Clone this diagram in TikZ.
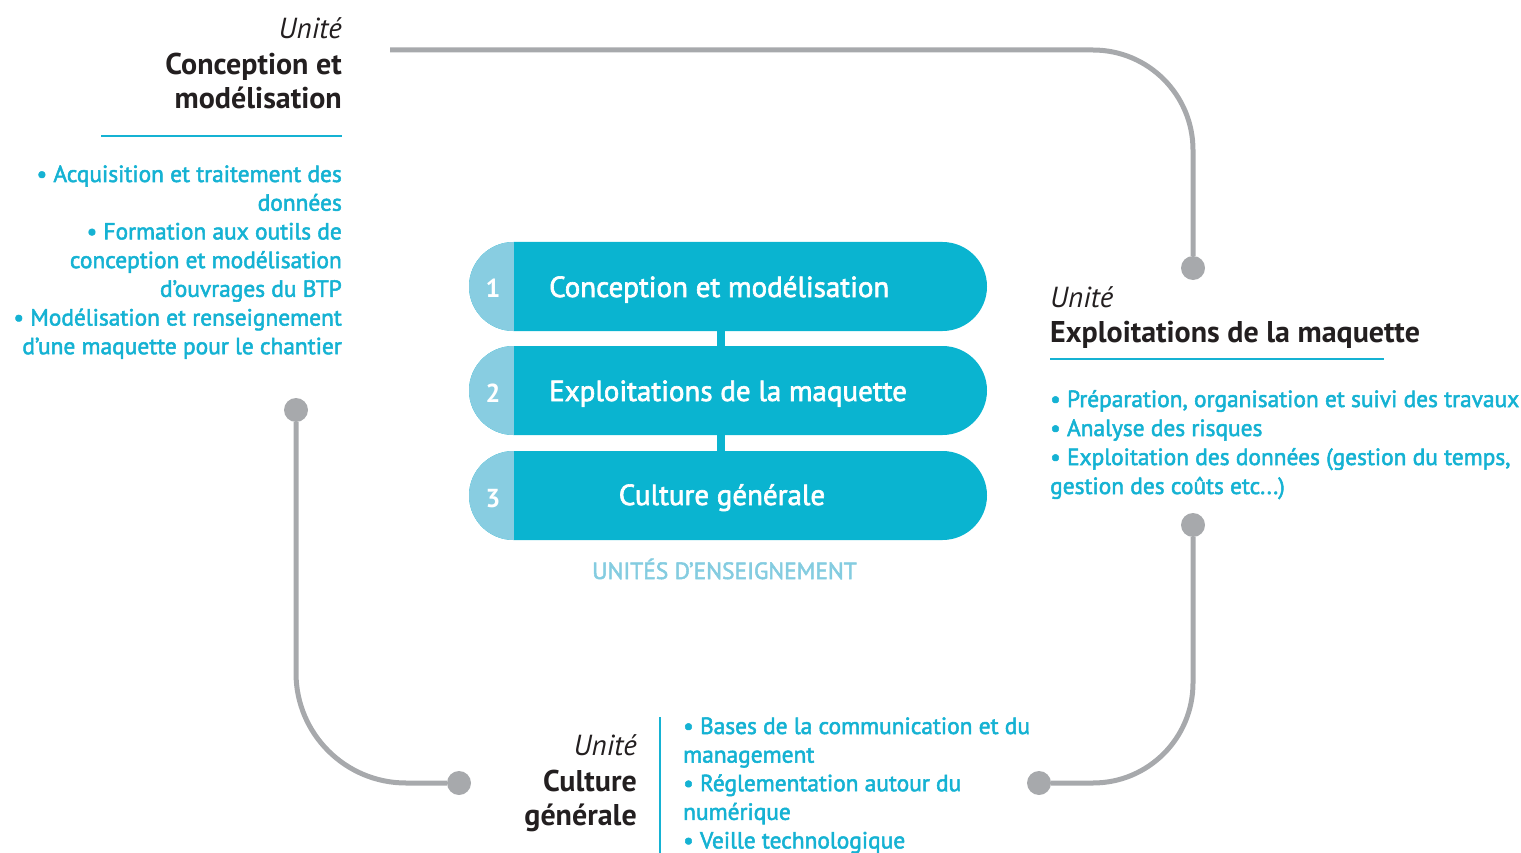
\documentclass[tikz,border=0pt]{standalone}
\usepackage{fontspec}
\setmainfont{PT Sans}
\newfontfamily\medium{PT Sans}[FakeBold=2.2]
\usetikzlibrary{shapes.misc}
\definecolor{cteal}{HTML}{0AB4D0}
\definecolor{clight}{HTML}{88CDE1}
\definecolor{ctext}{HTML}{15B2D3}
\definecolor{cunits}{HTML}{84CCE0}
\definecolor{cgray}{HTML}{A7A9AC}
\definecolor{cdark}{HTML}{231F20}
\newcommand\mydots{...}
\begin{document}
\begin{tikzpicture}[x=1pt,y=-1pt,
  pill/.style={rounded rectangle, minimum width=518pt, minimum height=89pt, inner sep=0pt, fill=cteal,
    path picture={\fill[clight] ([xshift=-2pt]path picture bounding box.north west) rectangle ([xshift=45pt]path picture bounding box.south west);}},
  num/.style={text=white, font=\bfseries\fontsize{26}{30}\selectfont, inner sep=0pt, anchor=base},
  plabel/.style={text=white, font=\medium\fontsize{29}{34}\selectfont, inner sep=0pt, anchor=base west},
  unit/.style={font=\itshape\fontsize{29}{33}\selectfont, text=cdark, inner sep=0pt},
  head/.style={font=\bfseries\fontsize{30}{34}\selectfont, text=cdark, inner sep=0pt},
  item/.style={font=\medium\fontsize{23.4}{28}\selectfont, text=ctext, inner sep=0pt},
  conn/.style={draw=cgray, line width=5pt},
  dot/.style={circle, fill=cgray, minimum size=24pt, inner sep=0pt},
  rule/.style={draw=ctext, line width=2pt},
  bar/.style={draw=cteal, line width=8pt}]
\useasboundingbox (0,0) rectangle (1521,853);

% pills
\node[pill] (p1) at (728,286.5) {};
\node[pill] (p2) at (728,390.5) {};
\node[pill] (p3) at (728,495.5) {};
\draw[bar] ([xshift=-7pt]p1.south) -- ([xshift=-7pt]p2.north);
\draw[bar] ([xshift=-7pt]p2.south) -- ([xshift=-7pt]p3.north);
\node[num] (n1) at (493,298) {1};
\node[num] (n2) at (493,402) {2};
\node[num] (n3) at (493,507) {3};
\node[plabel] (t1) at (549,297) {Conception et modélisation};
\node[plabel] (t2) at (549,401) {Exploitations de la maquette};
\node[plabel, anchor=base] (t3) at (722,505) {Culture générale};
\node[font=\medium\fontsize{23.5}{27}\selectfont, text=cunits, inner sep=0pt, anchor=base] (ue) at (724.5,579) {UNITÉS D’ENSEIGNEMENT};

% left block
\node[unit, anchor=base east] (lu) at (342,39) {Unité};
\node[head, anchor=base east] (lh1) at (342,75) {Conception et};
\node[head, anchor=base east] (lh2) at (342,109) {modélisation};
\coordinate (lr1) at (101,136);
\coordinate (lr2) at (342,136);
\draw[rule] (lr1) -- (lr2);
\foreach [count=\i] \t in {• Acquisition et traitement des, données, • Formation aux outils de, conception et modélisation, d’ouvrages du BTP, • Modélisation et renseignement, d’une maquette pour le chantier}
  \node[item, anchor=base east] (la\i) at (342,{182+28.7*(\i-1)}) {\t};

% right block
\node[unit, anchor=base west] (ru) at (1050,307) {Unité};
\node[head, anchor=base west] (rh) at (1050,342) {Exploitations de la maquette};
\coordinate (rr1) at (1050,359);
\coordinate (rr2) at (1384,359);
\draw[rule] (rr1) -- (rr2);
\foreach [count=\i] \t in {{• Préparation, organisation et suivi des travaux}, • Analyse des risques, {• Exploitation des données (gestion du temps,}, {gestion des coûts etc\mydots)}}
  \node[item, anchor=base west] (ra\i) at (1050,{407+29*(\i-1)}) {\t};

% bottom block
\node[unit, anchor=base east] (bu) at (637,755) {Unité};
\node[head, anchor=base east] (bh1) at (637,791) {Culture};
\node[head, anchor=base east] (bh2) at (637,825) {générale};
\coordinate (bv1) at (660,717);
\coordinate (bv2) at (660,853);
\draw[rule] (bv1) -- (bv2);
\foreach [count=\i] \t in {• Bases de la communication et du, management, • Réglementation autour du, numérique, • Veille technologique}
  \node[item, anchor=base west] (ba\i) at (683,{734+28.6*(\i-1)}) {\t};

% connectors
\node[dot] (d1) at (1193,268) {};
\coordinate (s1) at (390,50);
\draw[conn, rounded corners=100pt] (s1) -- (s1 -| d1) -- (d1);
\node[dot] (d2) at (296,410) {};
\node[dot] (d3) at (459,783) {};
\draw[conn, rounded corners=110pt] (d2) -- (d2 |- d3) -- (d3);
\node[dot] (d4) at (1193,525) {};
\node[dot] (d5) at (1039,783) {};
\draw[conn, rounded corners=100pt] (d4) -- (d4 |- d5) -- (d5);
\end{tikzpicture}
\end{document}
